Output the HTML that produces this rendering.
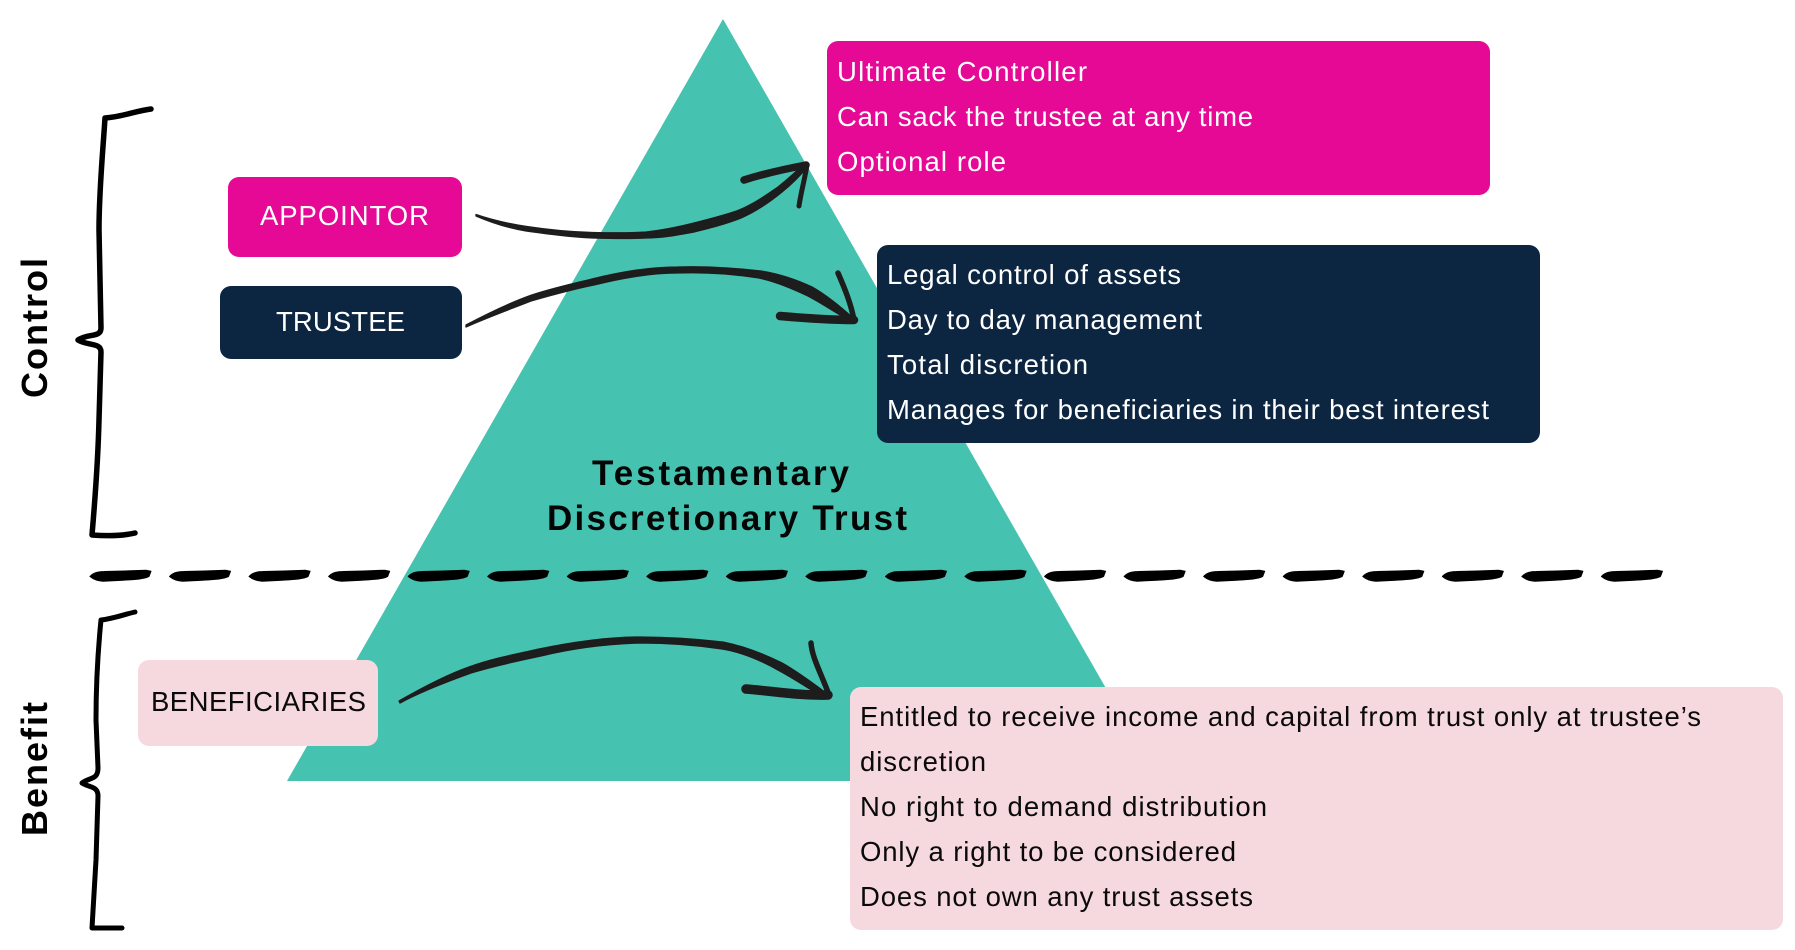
<!DOCTYPE html>
<html><head><meta charset="utf-8"><style>
html,body{margin:0;padding:0;background:#fff;width:1795px;height:950px;overflow:hidden}
svg{display:block}
text{font-family:"Liberation Sans",sans-serif;font-size:27.5px}
.w{fill:#fff}.k{fill:#0a0a0a}
.b{font-weight:bold;font-size:35px;fill:#050505}
.v{font-weight:bold;font-size:36px;fill:#000}
</style></head><body>
<svg width="1795" height="950" viewBox="0 0 1795 950" xmlns="http://www.w3.org/2000/svg">
<defs><path id="d" fill="#000" stroke="#000" stroke-width="1" stroke-linejoin="round" d="M0 .5C3-3 8-4.500 14-4.500L35-5 56-5.800 61-4.800 59 .5C55 3 45 3.500 33 4.200L13 5.200C8 5 3 3 0 .5Z"/></defs>
<rect width="1795" height="950" fill="#fff"/>
<polygon points="723,19 1159,781 287,781" fill="#46c2b1"/>

<rect x="827" y="41" width="663" height="154" rx="11" fill="#e60996"/>
<rect x="877" y="245" width="663" height="198" rx="11" fill="#0c2541"/>
<rect x="850" y="687" width="933" height="243" rx="11" fill="#f6d9df"/>
<rect x="228" y="177" width="234" height="80" rx="11" fill="#e60996"/>
<rect x="220" y="286" width="242" height="73" rx="11" fill="#0c2541"/>
<rect x="138" y="660" width="240" height="86" rx="11" fill="#f6d9df"/>

<text class="w" x="837" y="81" textLength="250" lengthAdjust="spacing">Ultimate Controller</text>
<text class="w" x="837" y="126" textLength="416" lengthAdjust="spacing">Can sack the trustee at any time</text>
<text class="w" x="837" y="171" textLength="169" lengthAdjust="spacing">Optional role</text>
<text class="w" x="887" y="284" textLength="294" lengthAdjust="spacing">Legal control of assets</text>
<text class="w" x="887" y="329" textLength="315" lengthAdjust="spacing">Day to day management</text>
<text class="w" x="887" y="374" textLength="201" lengthAdjust="spacing">Total discretion</text>
<text class="w" x="887" y="419" textLength="602" lengthAdjust="spacing">Manages for beneficiaries in their best interest</text>
<text class="k" x="860" y="726" textLength="841" lengthAdjust="spacing">Entitled to receive income and capital from trust only at trustee’s</text>
<text class="k" x="860" y="771" textLength="126" lengthAdjust="spacing">discretion</text>
<text class="k" x="860" y="816" textLength="407" lengthAdjust="spacing">No right to demand distribution</text>
<text class="k" x="860" y="861" textLength="376" lengthAdjust="spacing">Only a right to be considered</text>
<text class="k" x="860" y="906" textLength="393" lengthAdjust="spacing">Does not own any trust assets</text>
<text class="w" x="260" y="225" textLength="169" lengthAdjust="spacing">APPOINTOR</text>
<text class="w" x="276" y="331" textLength="129" lengthAdjust="spacing">TRUSTEE</text>
<text class="k" x="151" y="711" textLength="215" lengthAdjust="spacing">BENEFICIARIES</text>
<text class="b" x="592" y="485" textLength="257" lengthAdjust="spacing">Testamentary</text>
<text class="b" x="547" y="530" textLength="360" lengthAdjust="spacing">Discretionary Trust</text>
<text class="v" x="47" y="398" transform="rotate(-90 47 398)" textLength="140" lengthAdjust="spacing">Control</text>
<text class="v" x="47" y="836" transform="rotate(-90 47 836)" textLength="134" lengthAdjust="spacing">Benefit</text>

<g fill="none" stroke="#000" stroke-width="5.500" stroke-linecap="round" stroke-linejoin="round">
<path d="M151 109C135 111 122 117 105 118 103 150 99 190 99 230L101 328C101 338 88 333 78 340 87 346 101 342 101 352L99 420C98 460 95 500 92 535 105 536 122 536 135 533"/>
<path stroke-width="5" d="M135 612C122 615 112 619 101 620 98 650 96 680 96 720L98 768C98 780 90 777 82 783 90 788 98 786 98 796L96 860 92 928H122"/>
</g>

<g>
<use href="#d" x="90" y="576"/><use href="#d" x="169.55" y="576"/><use href="#d" x="249.1" y="576"/><use href="#d" x="328.65" y="576"/>
<use href="#d" x="408.2" y="576"/><use href="#d" x="487.75" y="576"/><use href="#d" x="567.3" y="576"/><use href="#d" x="646.85" y="576"/>
<use href="#d" x="726.4" y="576"/><use href="#d" x="805.95" y="576"/><use href="#d" x="885.5" y="576"/><use href="#d" x="965.05" y="576"/>
<use href="#d" x="1044.6" y="576"/><use href="#d" x="1124.15" y="576"/><use href="#d" x="1203.7" y="576"/><use href="#d" x="1283.25" y="576"/>
<use href="#d" x="1362.8" y="576"/><use href="#d" x="1442.35" y="576"/><use href="#d" x="1521.9" y="576"/><use href="#d" x="1601.45" y="576"/>
</g>

<g fill="#1d1d1d" stroke="#1d1d1d" stroke-width="1.300" stroke-linejoin="round">
<path d="M476 214.5C492 220 510 224 527 226.5 550 230 572 232 593 232.5 612 233 630 233 646 232 664 230 678 227 692 223.5 708 219.5 724 215.5 738 210.500 754 204 768 194 778 187 788 179 797 171 806 162L809 165C801 175 792 184 782 192 771 201 757 211 741 218 726 224 710 228 694 232 678 235 662 238 646 238 628 239 610 238.500 593 238 570 237 548 234 526 231 508 228 490 222 476 216Z"/>
<path d="M466 325C485 315 507 304 529 296 549 289 572 284 592 279 620 272 650 267 677 267 706 266 735 268 761 271 780 274 797 280 812 287 826 295 842 308 854 319L853 323C841 316 825 305 808 296 793 289 777 282 759 278 733 274 706 272 677 273 650 273 622 278 594 285 574 289 552 295 531 301 508 310 486 318 466 327Z"/>
<path d="M399 701C420 689 446 675 469 667 491 659 516 654 539 649 573 642 606 637 640 637 668 637 697 639 723 642 743 646 764 654 782 663 798 672 814 684 826 693L824 698C810 689 793 678 778 670 760 660 741 652 722 649 695 645 667 643 640 643 606 644 574 648 541 656 517 661 494 666 471 673 446 682 420 692 400 703Z"/>
</g>
<g fill="none" stroke="#1d1d1d" stroke-linecap="round" stroke-linejoin="round">
<path stroke-width="7.500" d="M744 180C763 174 785 169 806 165"/>
<path stroke-width="5" d="M799 206C801 192 805 178 807 165"/>
<path stroke-width="8.500" d="M780 316C803 318 830 320 854 320"/>
<path stroke-width="5.500" d="M838 273C845 289 851 304 854 320"/>
<path stroke-width="9.500" d="M746 689C772 691 802 696 828 695"/>
<path stroke-width="5.500" d="M811 643C812 658 822 675 829 695"/>
</g>
</svg>
</body></html>
